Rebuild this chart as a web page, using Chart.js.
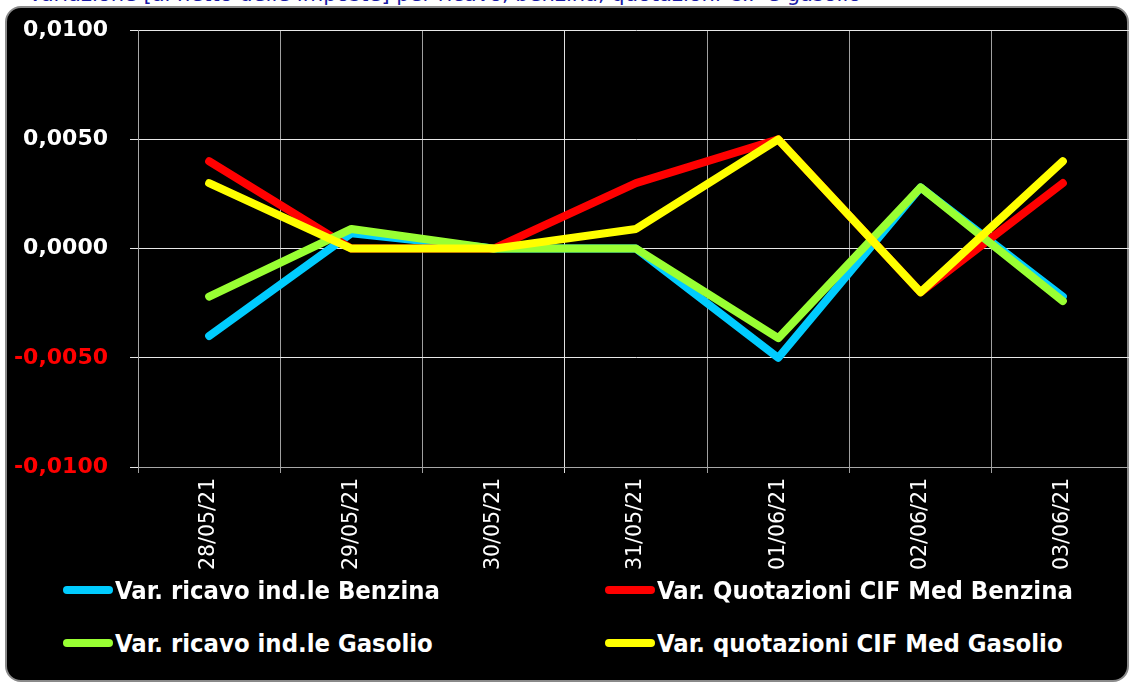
<!DOCTYPE html>
<html lang="it">

<head>
    <meta charset="UTF-8">
    <title>Variazioni ricavo e quotazioni</title>
    <script src="https://cdn.jsdelivr.net/npm/chart.js"></script>

    <style>
        html, body {
            margin: 0;
            padding: 0;
            width: 1129px;
            height: 684px;
            overflow: hidden;
            background: #ffffff;
        }

        .title {
            position: absolute;
            left: 28px;
            top: -18px;
            font: 21px "DejaVu Sans", sans-serif;
            color: #1a1aa6;
            white-space: nowrap;
        }

        .frame {
            position: absolute;
            left: 5px;
            top: 6px;
            width: 1120px;
            height: 672px;
            background: #000;
            border: 2px solid #8a8a8a;
            border-radius: 16px;
        }

        #myChart {
            position: absolute;
            left: 0;
            top: -5px;
        }

        .legend-item {
            position: absolute;
            display: flex;
            align-items: center;
            color: #fff;
            font: bold 25.4px "DejaVu Sans Condensed", "DejaVu Sans", sans-serif;
            white-space: nowrap;
        }

        .swatch {
            width: 50px;
            height: 8px;
            border-radius: 4px;
            margin-right: 2px;
        }
    </style>
</head>

<body>
    <div class="title">Variazione [al netto delle imposte] per ricavo, benzina, quotazioni CIF e gasolio</div>
    <div class="frame"></div>
    <canvas id="myChart" width="1140" height="585"></canvas>
    <div id="legend"></div>

    <script>
        // dati
        const labels = ['28/05/21', '29/05/21', '30/05/21', '31/05/21', '01/06/21', '02/06/21', '03/06/21'];
        const ricavoBenzina = [-0.0040, 0.0007, 0.0000, 0.0000, -0.0050, 0.0028, -0.0022];
        const quotBenzina = [0.0040, 0.0000, 0.0000, 0.0030, 0.0050, -0.0020, 0.0030];
        const ricavoGasolio = [-0.0022, 0.0009, 0.0000, 0.0000, -0.0041, 0.0028, -0.0024];
        const quotGasolio = [0.0030, 0.0000, 0.0000, 0.0009, 0.0050, -0.0020, 0.0040];

        const seriesNames = [
            'Var. ricavo ind.le Benzina',
            'Var. Quotazioni CIF Med Benzina',
            'Var. ricavo ind.le Gasolio',
            'Var. quotazioni CIF Med Gasolio'
        ];
        const seriesColors = ['#00ccff', '#ff0000', '#99ff33', '#ffff00'];
        const seriesData = [ricavoBenzina, quotBenzina, ricavoGasolio, quotGasolio];
        const drawOrder = [4, 3, 2, 1]; // yellow on top

        const ctx = document.getElementById('myChart').getContext('2d');

        const myChart = new Chart(ctx, {
            type: 'line',
            data: {
                labels: labels,
                datasets: seriesData.map((d, i) => ({
                    label: seriesNames[i],
                    data: d,
                    borderColor: seriesColors[i],
                    backgroundColor: seriesColors[i],
                    borderWidth: 8,
                    borderCapStyle: 'round',
                    borderJoinStyle: 'round',
                    pointRadius: 0,
                    tension: 0,
                    order: drawOrder[i]
                }))
            },
            options: {
                responsive: false,
                animation: false,
                layout: {
                    padding: { top: 26, right: 6 }
                },
                plugins: {
                    legend: { display: false },
                    tooltip: { enabled: false }
                },
                scales: {
                    x: {
                        offset: true,
                        grid: {
                            offset: true,
                            color: (c) => c.index === 3 ? '#e0e0e0' : '#a0a0a0',
                            tickLength: 6
                        },
                        border: { color: '#a8a8a8' },
                        ticks: {
                            color: '#ffffff',
                            font: { family: 'DejaVu Sans', size: 20.5 },
                            minRotation: 90,
                            maxRotation: 90,
                            padding: 5
                        },
                        afterFit: (scale) => { scale.height = 113; }
                    },
                    y: {
                        min: -0.01,
                        max: 0.01,
                        grid: {
                            color: '#e8e8e8',
                            tickLength: 8
                        },
                        border: { color: '#a8a8a8' },
                        ticks: {
                            stepSize: 0.005,
                            padding: 22,
                            color: (c) => c.tick && c.tick.value < 0 ? '#ff0000' : '#ffffff',
                            font: { family: 'DejaVu Sans', size: 22, weight: 'bold' },
                            callback: (v) => v.toFixed(4).replace('.', ',')
                        },
                        afterFit: (scale) => { scale.width = 138; }
                    }
                }
            }
        });

        // legenda a due colonne
        const legendPos = [[63, 590], [605, 590], [63, 643], [605, 643]];
        const legendEl = document.getElementById('legend');
        seriesNames.forEach((name, i) => {
            const item = document.createElement('div');
            item.className = 'legend-item';
            item.style.left = legendPos[i][0] + 'px';
            item.style.top = (legendPos[i][1] - 15) + 'px';
            item.innerHTML = `<span class="swatch" style="background:${seriesColors[i]}"></span><span>${name}</span>`;
            legendEl.appendChild(item);
        });
    </script>
</body>

</html>
